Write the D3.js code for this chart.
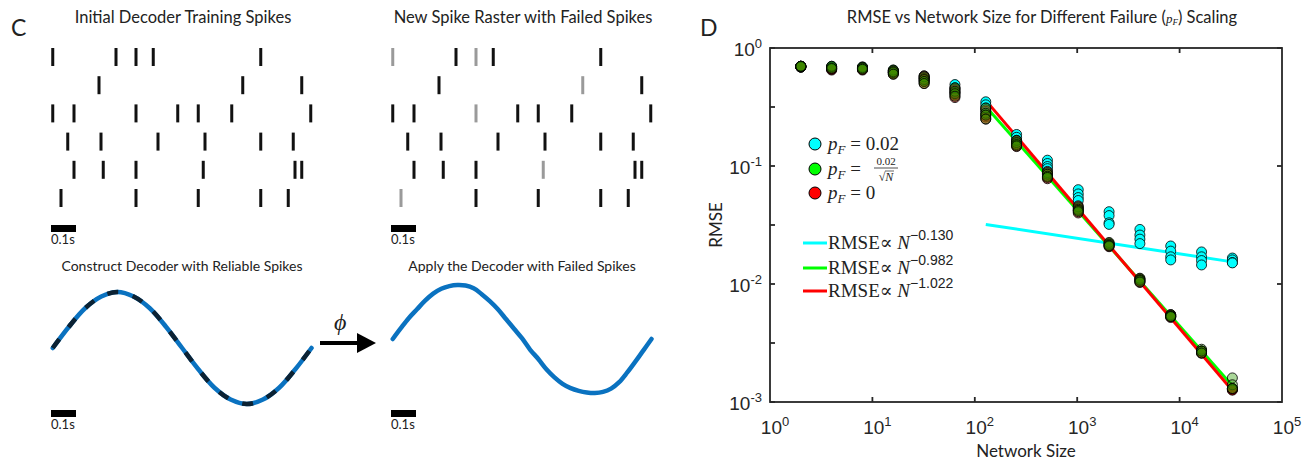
<!DOCTYPE html>
<html>
<head>
<meta charset="utf-8">
<script src="https://cdn.jsdelivr.net/npm/d3@7"></script>
<style>
  body { margin: 0; background: #fff; }
  svg { display: block; }
  .ttl { font-family: Lato, "Open Sans", sans-serif; fill: #222; }
  .tick-lbl { font-family: "Liberation Sans", Arial, sans-serif; fill: #262626; }
  .math { font-family: "Liberation Serif", "DejaVu Serif", serif; fill: #222; }
</style>
</head>
<body>
<svg width="1306" height="460"></svg>
<script>
// ---- panel C data: spike times (s) per neuron row
var spikeRows = [
  [0.007, 0.26, 0.34, 0.409, 0.839],
  [0.192, 0.767, 1.003],
  [0.007, 0.092, 0.34, 0.507, 0.589, 0.723, 1.039],
  [0.067, 0.20, 0.428, 0.616, 0.839, 0.969],
  [0.092, 0.209, 0.34, 0.609, 0.976, 1.003],
  [0.04, 0.34, 0.589, 0.839, 0.949]
];
// [row, spike index] of spikes that fail in the new raster
var failedSpikes = [[0, 0], [0, 2], [1, 1], [2, 2], [4, 3], [5, 0]];

// decoded signal samples (normalised), one period
var signalTrue = [0, 0.38, 0.71, 0.92, 1, 0.92, 0.71, 0.38, 0, -0.38, -0.71, -0.92, -1, -0.92, -0.71, -0.38, 0];
var signalFailed = [0.0, 0.2, 0.39, 0.55, 0.71, 0.84, 0.93, 0.98, 1.0, 0.99, 0.94, 0.83, 0.70, 0.55, 0.37, 0.19, 0.01,
  -0.2, -0.37, -0.56, -0.71, -0.83, -0.91, -0.96, -0.99, -1.0, -0.98, -0.92, -0.80, -0.62, -0.42, -0.21, 0.0];

// ---- panel D data
var networkSizes = [2, 4, 8, 16, 32, 64, 128, 256, 512, 1024, 2048, 4096, 8192, 16384, 32768];
var rmseConst = [ // p_F = 0.02
  [0.70, 0.69, 0.70, 0.69], [0.69, 0.68, 0.70, 0.67], [0.69, 0.67, 0.68, 0.66], [0.65, 0.63, 0.64, 0.62],
  [0.58, 0.56, 0.55, 0.53], [0.49, 0.46, 0.44, 0.42], [0.35, 0.33, 0.31, 0.29], [0.185, 0.175, 0.165, 0.16],
  [0.112, 0.105, 0.099, 0.095], [0.063, 0.058, 0.054, 0.051], [0.041, 0.038, 0.033, 0.032], [0.029, 0.026, 0.024, 0.022],
  [0.021, 0.019, 0.017, 0.016], [0.0187, 0.017, 0.0158, 0.0145], [0.0166, 0.016, 0.0152, 0.0151]
];
var rmseSqrt = [ // p_F = 0.02/sqrt(N)
  [0.70, 0.69, 0.70, 0.70], [0.69, 0.68, 0.70, 0.67], [0.69, 0.67, 0.68, 0.66], [0.65, 0.62, 0.63, 0.60],
  [0.57, 0.54, 0.52, 0.50], [0.46, 0.43, 0.41, 0.39], [0.31, 0.28, 0.27, 0.25], [0.165, 0.158, 0.152, 0.148],
  [0.088, 0.085, 0.082, 0.080], [0.045, 0.043, 0.042, 0.041], [0.0225, 0.0218, 0.0213, 0.021], [0.0112, 0.0109, 0.0107, 0.0104],
  [0.0055, 0.0054, 0.0053, 0.0053], [0.0028, 0.0027, 0.0027, 0.0026], [0.0016, 0.0014, 0.0013, 0.0013]
];
var rmseZero = [ // p_F = 0
  [0.70, 0.69, 0.70, 0.69], [0.66, 0.65, 0.67, 0.66], [0.68, 0.66, 0.67, 0.65], [0.64, 0.61, 0.62, 0.60],
  [0.58, 0.55, 0.52, 0.50], [0.45, 0.42, 0.40, 0.38], [0.30, 0.27, 0.26, 0.25], [0.163, 0.155, 0.15, 0.146],
  [0.09, 0.086, 0.081, 0.078], [0.046, 0.044, 0.042, 0.040], [0.0222, 0.0216, 0.021, 0.0207], [0.0111, 0.0108, 0.0105, 0.0103],
  [0.0055, 0.0054, 0.0053, 0.0052], [0.0027, 0.0027, 0.0026, 0.0026], [0.0013, 0.00128, 0.00127, 0.00126]
];
// fitted power laws, drawn between N=128 and N=32768 (values at the ends)
var fitNames = ["-0.130", "-0.982", "-1.022"];
var fitColors = ["#00ffff", "#00ff00", "#ff0000"];
var fitStart = [0.032, 0.32, 0.36];
var fitEnd = [0.0154, 0.00137, 0.00125];
var fitRange = [128, 32768];
var xTicks = [1, 10, 100, 1000, 10000, 100000];
var yTicks = [0.001, 0.01, 0.1, 1];

var svg = d3.select("svg");
svg.append("rect").attr("width", 1306).attr("height", 460).attr("fill", "#fff");

// ===================== panel C =====================
svg.append("text").attr("class", "ttl").attr("x", 11).attr("y", 36).attr("font-size", 23).text("C");

var t = d3.scaleLinear().domain([0, 0.1]).range([0, 25]);
var rowY = d3.scalePoint().domain(d3.range(spikeRows.length)).range([57, 198]);

function raster(x0, title, showFailed) {
  var g = svg.append("g").attr("transform", translate(x0, 0));
  g.append("text").attr("class", "ttl").attr("x", 132).attr("y", 23)
    .attr("text-anchor", "middle").attr("font-size", 16.5).text(title);
  spikeRows.forEach(function(row, r) {
    g.selectAll(null).data(row).enter().append("rect")
      .attr("x", function(d) { return t(d) - 1.5; })
      .attr("y", rowY(r) - 9)
      .attr("width", 3).attr("height", 18)
      .attr("fill", function(d, i) {
        var failed = failedSpikes.some(function(f) { return f[0] == r && f[1] == i; });
        return showFailed && failed ? "#9a9a9a" : "#111";
      });
  });
  scaleBar(g, 225);
}

function scaleBar(g, y) {
  g.append("rect").attr("x", t(0)).attr("y", y).attr("width", t(0.1) - t(0)).attr("height", 7).attr("fill", "#000");
  g.append("text").attr("class", "ttl").attr("x", t(0)).attr("y", y + 19).attr("font-size", 13).text("0.1s");
}

raster(51, "Initial Decoder Training Spikes", false);
raster(391, "New Spike Raster with Failed Spikes", true);

function signal(x0, mid, amp, values, title, dashed) {
  var g = svg.append("g").attr("transform", translate(x0, 0));
  g.append("text").attr("class", "ttl").attr("x", 131).attr("y", 271)
    .attr("text-anchor", "middle").attr("font-size", 14).text(title);
  var xs = d3.scaleLinear().domain([0, values.length - 1]).range([t(0.007), t(1.042)]);
  var ys = d3.scaleLinear().domain([-1, 1]).range([mid + amp, mid - amp]);
  var line = d3.line().x(function(d, i) { return xs(i); }).y(function(d) { return ys(d); })
    .curve(d3.curveCatmullRom);
  g.append("path").attr("d", line(values)).attr("fill", "none")
    .attr("stroke", "#0a72c0").attr("stroke-width", 4.5).attr("stroke-linecap", "round").attr("stroke-linejoin", "round");
  if (dashed) {
    g.append("path").attr("d", line(values)).attr("fill", "none")
      .attr("stroke", "#0c2233").attr("stroke-width", 4.5).attr("stroke-dasharray", "11,15");
  }
  scaleBar(g, 410);
}

signal(51, 348, 56, signalTrue, "Construct Decoder with Reliable Spikes", true);
signal(391, 339, 54, signalFailed, "Apply the Decoder with Failed Spikes", false);

// arrow phi
svg.append("line").attr("x1", 320).attr("x2", 360).attr("y1", 343).attr("y2", 343)
  .attr("stroke", "#000").attr("stroke-width", 4);
svg.append("path").attr("d", "M357,333L376,343L357,353Z").attr("fill", "#000");
svg.append("text").attr("class", "math").attr("x", 334).attr("y", 330)
  .attr("font-size", 24).attr("font-style", "italic").text("\u03D5");

// ===================== panel D =====================
var x = d3.scaleLog().domain([1, 1e5]).range([770, 1282]);
var y = d3.scaleLog().domain([1e-3, 1]).range([402, 48]);
var axisColor = "#262626";

svg.append("text").attr("class", "ttl").attr("x", 700).attr("y", 36).attr("font-size", 23).text("D");

var title = svg.append("text").attr("class", "ttl").attr("x", 1042).attr("y", 23)
  .attr("text-anchor", "middle").attr("font-size", 16.5);
title.append("tspan").text("RMSE vs Network Size for Different Failure (");
title.append("tspan").attr("class", "math").attr("font-style", "italic").attr("font-size", 13).text("p");
title.append("tspan").attr("class", "math").attr("font-style", "italic").attr("font-size", 9).attr("dy", 2).text("F");
title.append("tspan").attr("dy", -2).text(") Scaling");

// fit lines
var gFit = svg.append("g");
fitStart.forEach(function(v, i) {
  gFit.append("line")
    .attr("x1", x(fitRange[0])).attr("y1", y(v))
    .attr("x2", x(fitRange[1])).attr("y2", y(fitEnd[i]))
    .attr("stroke", fitColors[i]).attr("stroke-width", 3);
});

// scatter points
function scatter(data, color, alpha) {
  var pts = [];
  data.forEach(function(trials, i) {
    trials.forEach(function(v) { pts.push([networkSizes[i], v]); });
  });
  svg.append("g").selectAll("circle").data(pts).enter().append("circle")
    .attr("cx", function(d) { return x(d[0]); })
    .attr("cy", function(d) { return y(d[1]); })
    .attr("r", 5)
    .attr("fill", color).attr("fill-opacity", alpha)
    .attr("stroke", "#000").attr("stroke-opacity", 0.8).attr("stroke-width", 1);
}
scatter(rmseConst, "#00ffff", 1);
scatter(rmseZero, "#e00000", 0.55);
scatter(rmseSqrt, "#2a9a00", 0.4);

// axes box
var gAx = svg.append("g").attr("stroke", axisColor).attr("stroke-width", 1.8).attr("fill", "none");
gAx.append("rect").attr("x", x(1)).attr("y", y(1)).attr("width", x(1e5) - x(1)).attr("height", y(1e-3) - y(1));
xTicks.slice(1, -1).forEach(function(v) {
  gAx.append("line").attr("x1", x(v)).attr("x2", x(v)).attr("y1", y(1e-3)).attr("y2", y(1e-3) - 5);
  gAx.append("line").attr("x1", x(v)).attr("x2", x(v)).attr("y1", y(1)).attr("y2", y(1) + 5);
});
yTicks.forEach(function(v, i) {
  gAx.append("line").attr("x1", x(1)).attr("x2", x(1) + 5).attr("y1", y(v)).attr("y2", y(v));
  gAx.append("line").attr("x1", x(1e5)).attr("x2", x(1e5) - 5).attr("y1", y(v)).attr("y2", y(v));
  if (i < yTicks.length - 1) {
    var h = Math.sqrt(v * yTicks[i + 1]);
    gAx.append("line").attr("x1", x(1)).attr("x2", x(1) + 5).attr("y1", y(h)).attr("y2", y(h));
  }
});

function powLabel(sel, v) {
  var e = Math.round(Math.log10(v));
  sel.append("tspan").text("10");
  sel.append("tspan").attr("font-size", 13).attr("dy", -8).text(e);
}
xTicks.forEach(function(v) {
  var tx = svg.append("text").attr("class", "tick-lbl").attr("x", x(v) + 5).attr("y", 434)
    .attr("text-anchor", "middle").attr("font-size", 19);
  powLabel(tx, v);
});
yTicks.forEach(function(v) {
  var ty = svg.append("text").attr("class", "tick-lbl").attr("x", 762).attr("y", y(v) + 8)
    .attr("text-anchor", "end").attr("font-size", 19);
  powLabel(ty, v);
});

svg.append("text").attr("class", "ttl").attr("x", 1026).attr("y", 457)
  .attr("text-anchor", "middle").attr("font-size", 17).text("Network Size");
svg.append("text").attr("class", "ttl").attr("transform", "translate(722,225) rotate(-90)")
  .attr("text-anchor", "middle").attr("font-size", 17).text("RMSE");

// legend: markers
var legY = [144, 169, 193];
var legFill = ["#00ffff", "#00ff00", "#ff0000"];
legY.forEach(function(ly, i) {
  svg.append("circle").attr("cx", 815).attr("cy", ly).attr("r", 6)
    .attr("fill", legFill[i]).attr("stroke", "#000").attr("stroke-width", 1);
});
function pF(yb) {
  var tx = svg.append("text").attr("class", "math").attr("x", 828).attr("y", yb).attr("font-size", 19);
  tx.append("tspan").attr("font-style", "italic").text("p");
  tx.append("tspan").attr("font-style", "italic").attr("font-size", 13).attr("dy", 4).text("F");
  tx.append("tspan").attr("dy", -4).text(" = ");
  return tx;
}
pF(150).append("tspan").text("0.02");
pF(175);
svg.append("text").attr("class", "math").attr("x", 886).attr("y", 165).attr("text-anchor", "middle")
  .attr("font-size", 11).text("0.02");
svg.append("line").attr("x1", 874).attr("x2", 898).attr("y1", 168).attr("y2", 168).attr("stroke", "#222").attr("stroke-width", 0.8);
var den = svg.append("text").attr("class", "math").attr("x", 886).attr("y", 181).attr("text-anchor", "middle").attr("font-size", 12);
den.append("tspan").text("\u221A");
den.append("tspan").attr("font-style", "italic").text("N");
svg.append("line").attr("x1", 885).attr("x2", 894).attr("y1", 171).attr("y2", 171).attr("stroke", "#222").attr("stroke-width", 0.7);
pF(199).append("tspan").text("0");

// legend: fit lines
var legLineY = [243, 268, 291];
legLineY.forEach(function(ly, i) {
  svg.append("line").attr("x1", 803).attr("x2", 827).attr("y1", ly).attr("y2", ly)
    .attr("stroke", fitColors[i]).attr("stroke-width", 3);
  var tx = svg.append("text").attr("class", "math").attr("x", 828).attr("y", ly + 6).attr("font-size", 19);
  tx.append("tspan").text("RMSE\u221D ");
  tx.append("tspan").attr("font-style", "italic").text("N");
  tx.append("tspan").attr("font-family", "Liberation Sans, Arial, sans-serif").attr("font-size", 14)
    .attr("dy", -9).text(fitNames[i].replace("-", "\u2212"));
});

function translate(x, y) {
  return "translate(" + String(x) + "," + String(y) + ")";
}
</script>
</body>
</html>
